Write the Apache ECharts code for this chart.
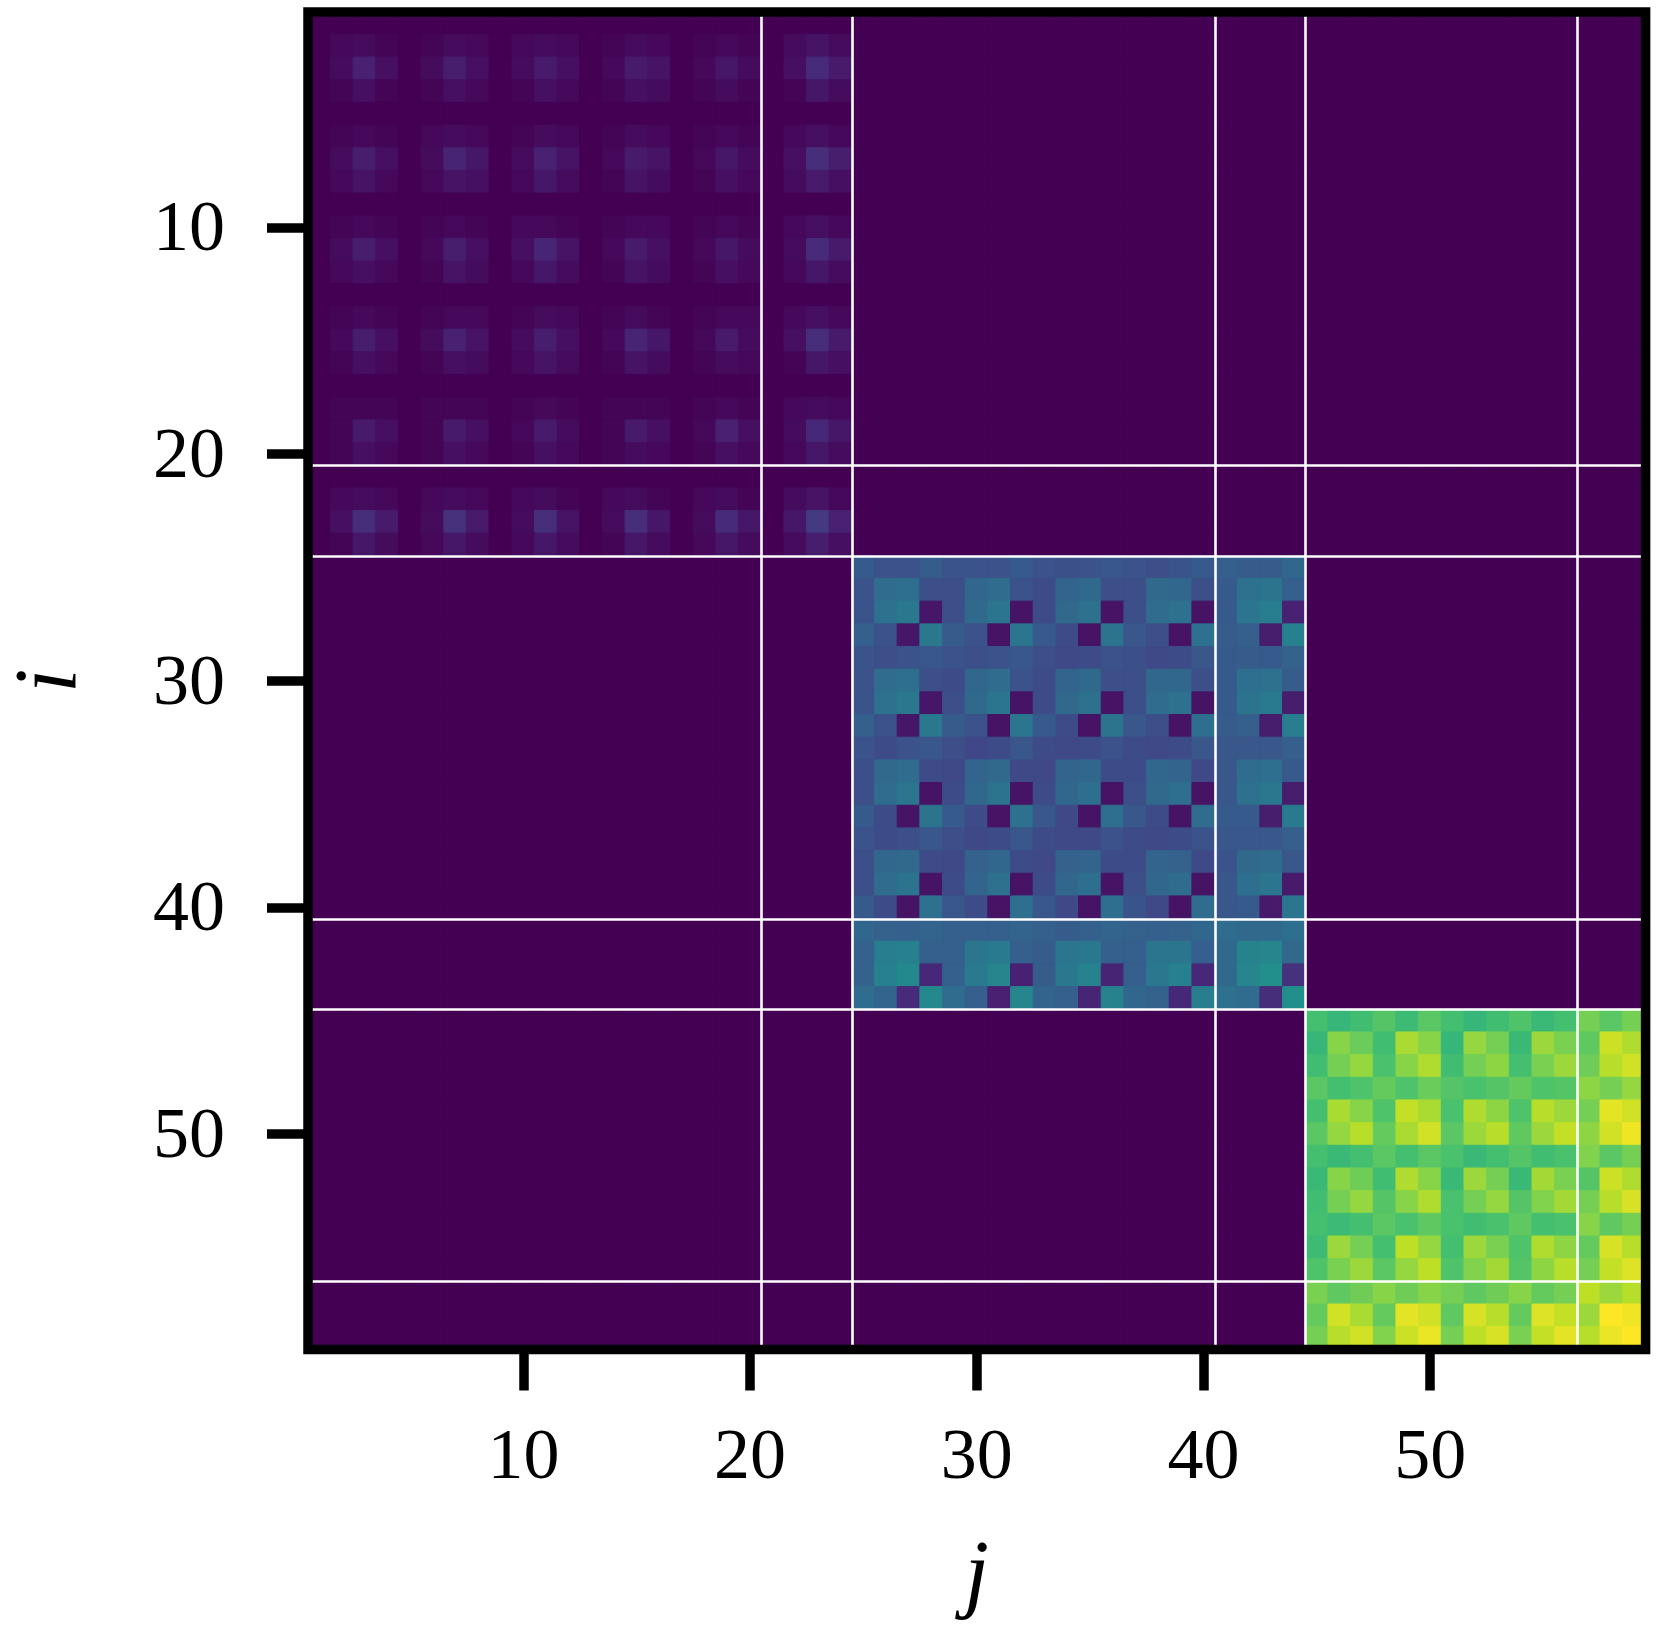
<!DOCTYPE html>
<html>
<head>
<meta charset="utf-8">
<title>block matrix</title>
<script src="https://cdn.jsdelivr.net/npm/echarts@6/dist/echarts.min.js"></script>
<style>
  html, body { margin: 0; padding: 0; background: #fff; }
  #chart { width: 1658px; height: 1635px; }
</style>
</head>
<body>
<div id="chart"></div>
<script>
// indices 1..59 on both axes
const categories = Array.from({ length: 59 }, (_, k) => String(k + 1));
const tickLabels = [10, 20, 30, 40, 50];
// white lines sit on the lower edge of these indices (20.5, 24.5 ...)
const separators = [20, 24, 40, 44, 56];

// values, 0..100 on the colour scale
const blockA = [ // rows/cols 1..24
  [0,0,0,0,0,0,0,0,0,0,0,0,0,0,0,0,0,0,0,0,0,0,0,0],
  [0,2,3,1,0,1,3,2,0,2,3,2,0,1,3,2,0,1,2,1,0,3,5,3],
  [0,3,9,4,0,3,8,4,0,3,7,4,0,2,7,5,0,2,6,3,0,4,12,7],
  [0,1,4,1,0,1,4,2,0,1,4,2,0,1,4,3,0,1,3,1,0,1,6,3],
  [0,0,0,0,0,0,0,0,0,0,0,0,0,0,0,0,0,0,0,0,0,0,0,0],
  [0,1,2,1,0,2,3,2,0,1,3,2,0,1,3,2,0,1,2,1,0,2,4,2],
  [0,3,8,4,0,3,10,6,0,3,9,5,0,2,7,5,0,2,6,3,0,4,13,8],
  [0,2,5,2,0,2,5,4,0,2,6,3,0,1,5,3,0,1,4,2,0,3,7,4],
  [0,0,0,0,0,0,0,0,0,0,0,0,0,0,0,0,0,0,0,0,0,0,0,0],
  [0,1,2,1,0,1,2,1,0,2,2,1,0,1,2,2,0,1,2,1,0,2,4,2],
  [0,3,8,4,0,2,8,4,0,4,10,5,0,2,7,4,0,2,6,3,0,3,12,7],
  [0,2,4,2,0,1,5,3,0,2,6,3,0,1,5,3,0,1,4,2,0,2,6,3],
  [0,0,0,0,0,0,0,0,0,0,0,0,0,0,0,0,0,0,0,0,0,0,0,0],
  [0,1,2,1,0,1,2,2,0,1,3,2,0,1,3,1,0,1,2,2,0,2,4,2],
  [0,2,8,4,0,3,9,5,0,3,8,4,0,2,10,6,0,2,7,3,0,4,13,7],
  [0,1,4,2,0,1,4,3,0,2,5,3,0,1,5,3,0,1,3,2,0,1,6,4],
  [0,0,0,0,0,0,0,0,0,0,0,0,0,0,0,0,0,0,0,0,0,0,0,0],
  [0,1,1,1,0,1,1,1,0,1,2,1,0,1,1,1,0,1,2,1,0,2,3,2],
  [0,1,7,4,0,1,7,4,0,2,7,3,0,1,7,4,0,2,9,4,0,3,11,6],
  [0,1,4,2,0,1,4,2,0,1,4,2,0,1,3,2,0,1,4,2,0,2,6,3],
  [0,0,0,0,0,0,0,0,0,0,0,0,0,0,0,0,0,0,0,0,0,0,0,0],
  [0,2,3,2,0,2,3,2,0,2,3,1,0,2,3,1,0,2,3,1,0,3,5,2],
  [0,4,13,7,0,3,14,7,0,3,13,5,0,3,13,6,0,3,12,6,0,6,17,9],
  [0,1,6,3,0,2,6,3,0,2,6,3,0,1,6,3,0,2,6,3,0,3,8,4]
];
const blockB = [ // rows/cols 25..44
  [28,25,25,29,26,25,25,28,25,24,25,27,25,24,26,28,30,29,29,33],
  [26,35,36,24,24,33,35,25,23,32,34,24,24,34,33,24,28,37,38,30],
  [26,37,40,6,24,34,39,5,23,34,37,5,24,35,37,5,28,39,42,9],
  [30,25,6,40,29,25,5,39,28,23,5,38,27,24,5,37,29,30,8,43],
  [26,24,25,27,25,24,25,27,24,22,23,25,24,22,23,27,28,29,28,31],
  [25,35,36,24,23,33,35,25,23,32,34,24,24,33,33,24,28,36,37,29],
  [26,37,40,6,24,34,39,5,23,34,37,5,24,35,37,5,28,38,41,8],
  [30,25,6,40,29,25,5,39,28,23,5,38,27,24,5,36,29,30,8,42],
  [25,23,25,27,24,21,23,27,23,22,23,25,23,22,23,27,27,27,27,30],
  [24,34,35,23,22,32,34,22,22,32,33,23,23,33,32,22,27,35,36,28],
  [24,35,39,5,23,33,38,5,23,33,36,5,24,34,36,5,27,37,40,8],
  [28,23,5,38,28,23,5,37,27,22,5,36,27,23,5,35,28,28,8,41],
  [25,23,24,27,24,22,23,27,23,22,22,25,23,22,23,26,27,27,27,30],
  [24,33,34,23,22,31,33,23,22,31,32,23,23,32,31,22,26,34,35,27],
  [24,35,38,5,23,32,37,5,23,33,36,5,24,33,35,5,27,36,39,7],
  [28,23,5,37,27,23,5,36,27,22,5,36,26,22,5,35,27,28,7,39],
  [33,31,30,32,30,30,30,32,30,29,30,32,31,30,31,33,35,34,34,36],
  [31,42,43,30,30,39,41,30,29,39,40,30,30,39,39,30,34,44,45,34],
  [31,43,47,11,30,41,45,9,29,40,44,10,30,40,43,11,34,45,49,14],
  [35,32,12,47,35,30,9,45,32,30,10,44,33,31,11,42,37,35,13,49]
];
const blockC = [ // rows/cols 45..59
  [70,66,69,73,68,74,70,66,69,72,67,70,79,74,79],
  [66,82,77,69,87,82,66,84,79,67,85,80,75,92,88],
  [69,79,84,71,82,88,69,79,83,70,80,85,78,89,93],
  [74,70,72,76,72,77,73,71,73,76,72,73,83,79,84],
  [70,87,82,72,91,87,71,88,83,72,89,85,79,96,93],
  [74,84,89,76,87,93,74,85,89,75,85,91,83,93,98],
  [70,67,70,74,70,74,71,67,70,73,69,71,81,74,79],
  [67,82,78,69,88,82,67,85,79,67,86,80,73,92,88],
  [69,79,84,73,82,88,71,79,84,73,81,86,79,89,94],
  [70,68,70,74,71,75,71,69,71,75,70,71,82,75,79],
  [68,85,79,70,90,84,70,85,80,72,88,83,76,94,89],
  [72,80,85,74,84,90,72,81,86,73,83,89,79,91,95],
  [80,75,78,82,78,82,79,75,78,82,76,79,90,85,89],
  [76,93,87,76,96,93,75,94,89,76,95,91,85,100,98],
  [79,89,93,81,92,97,79,90,94,80,91,96,89,97,100]
];
const blocks = [blockA, blockB, blockC];

const viridis = ['#440154', '#482475', '#414487', '#355f8d', '#2a788e', '#21918c', '#22a884', '#44bf70', '#7ad151', '#bddf26', '#fde725'];

// everything outside the diagonal blocks stays at 0
const cells = [];
categories.forEach((_, i) => {
  categories.forEach((_, j) => {
    let value = 0;
    let start = 0;
    blocks.forEach((block) => {
      const size = block.length;
      if (i >= start && i < start + size && j >= start && j < start + size) {
        value = block[i - start][j - start];
      }
      start += size;
    });
    // same-colour border closes the hairline seams between neighbouring cells
    cells.push({
      value: [j, i, value],
      itemStyle: { borderWidth: 1, borderColor: echarts.color.lerp(value / 100, viridis) },
    });
  });
});

const isTick = (index, value) => tickLabels.includes(Number(value));
const isSeparator = (index) => separators.includes(index);

const labelFont = {
  color: '#000',
  fontFamily: 'Liberation Serif',
  fontSize: 72,
};
const nameFont = {
  color: '#000',
  fontFamily: 'Liberation Serif',
  fontStyle: 'italic',
  fontSize: 88,
};
const tickStyle = { color: '#000', width: 9.5, cap: 'butt' };
const sepStyle = { color: '#fff', width: 2.6 };

const gridBox = { left: 308, top: 12, width: 1337.6, height: 1337.6, outerBoundsMode: 'none' };

const myChart = echarts.init(document.getElementById('chart'), null, { renderer: 'canvas' });

const option = {
  animation: false,
  backgroundColor: '#fff',
  grid: [
    { ...gridBox },
    // second grid only draws the black frame on top of the cells
    { ...gridBox, z: 10, show: true, backgroundColor: 'transparent', borderColor: '#000', borderWidth: 9.5 },
  ],
  xAxis: [
    {
      type: 'category',
      data: categories,
      position: 'bottom',
      z: 5,
      name: 'j',
      nameLocation: 'middle',
      nameGap: 184,
      nameTextStyle: nameFont,
      axisLine: { show: false },
      axisTick: { show: true, alignWithLabel: true, length: 41, interval: isTick, lineStyle: tickStyle },
      axisLabel: { show: true, interval: isTick, margin: 73, hideOverlap: false, ...labelFont },
      splitLine: { show: true, interval: isSeparator, lineStyle: sepStyle },
    },
    { type: 'category', data: categories, gridIndex: 1, show: false },
  ],
  yAxis: [
    {
      type: 'category',
      data: categories,
      inverse: true,
      position: 'left',
      z: 5,
      name: 'i',
      nameLocation: 'middle',
      nameGap: 212,
      nameRotate: 90,
      nameTextStyle: nameFont,
      axisLine: { show: false },
      axisTick: { show: true, alignWithLabel: true, length: 41, interval: isTick, lineStyle: tickStyle },
      // short line box with top align nudges the digits down onto the tick
      axisLabel: { show: true, interval: isTick, margin: 83, hideOverlap: false, verticalAlign: 'top', lineHeight: 8, ...labelFont },
      splitLine: { show: true, interval: isSeparator, lineStyle: sepStyle },
    },
    { type: 'category', data: categories, gridIndex: 1, inverse: true, show: false },
  ],
  visualMap: {
    show: false,
    seriesIndex: 0,
    min: 0,
    max: 100,
    inRange: { color: viridis },
  },
  series: [
    {
      type: 'heatmap',
      xAxisIndex: 0,
      yAxisIndex: 0,
      data: cells,
      progressive: 0,
      emphasis: { disabled: true },
    },
  ],
};

myChart.setOption(option);
window.addEventListener('resize', () => myChart.resize());
</script>
</body>
</html>
